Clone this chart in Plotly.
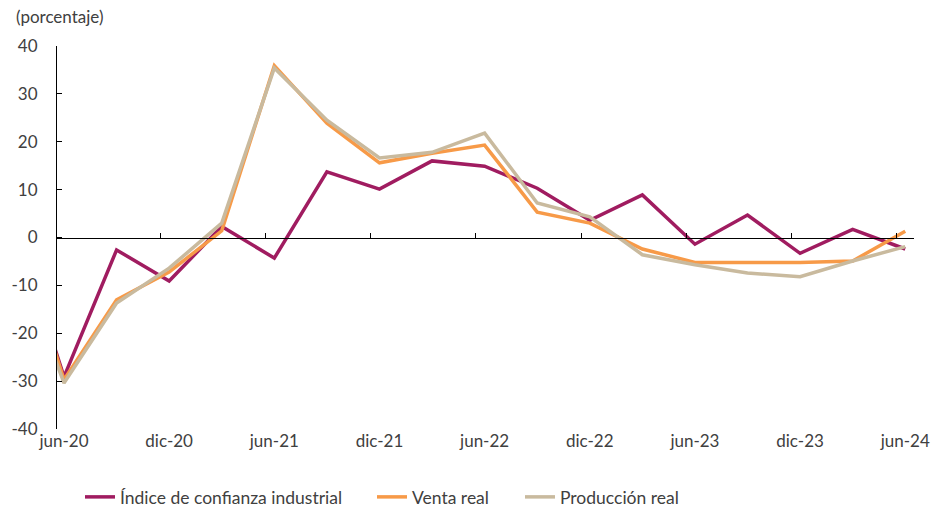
import pandas as pd
import plotly.graph_objects as go

# Quarterly observations (first one, mar-20, is clipped by the axis range)
periods = ["2020-03", "2020-06", "2020-09", "2020-12", "2021-03", "2021-06", "2021-09",
           "2021-12", "2022-03", "2022-06", "2022-09", "2022-12", "2023-03", "2023-06",
           "2023-09", "2023-12", "2024-03", "2024-06"]
confianza = [5.0, -29.1, -2.6, -9.1, 2.3, -4.3, 13.7, 10.1, 16.0, 14.9, 10.3, 3.6,
             8.9, -1.4, 4.7, -3.3, 1.7, -2.4]
venta = [5.0, -29.7, -13.0, -7.2, 1.4, 35.9, 23.9, 15.6, 17.6, 19.3, 5.3, 3.0,
         -2.4, -5.2, -5.2, -5.2, -4.9, 1.3]
produccion = [-1.0, -30.4, -13.7, -6.4, 3.0, 35.4, 24.5, 16.6, 17.8, 21.8, 7.2, 4.3,
              -3.6, -5.7, -7.4, -8.2, -4.9, -1.9]

tick_labels = ["jun-20", "dic-20", "jun-21", "dic-21", "jun-22", "dic-22", "jun-23", "dic-23", "jun-24"]
y_ticks = [-40, -30, -20, -10, 0, 10, 20, 30, 40]

series_names = ["Índice de confianza industrial", "Venta real", "Producción real"]
colors = ["#A01C60", "#F79A48", "#C9BA9E"]

# month index relative to jun-20
base = pd.Period("2020-06", "M")
xm = [(pd.Period(p, "M") - base).n for p in periods]
label_pos = [6 * i for i in range(len(tick_labels))]
boundary_pos = [v - 0.5 for v in label_pos]

FONT = "Lato, Calibri, sans-serif"
TXT = "#404040"
W, H = 942, 514

fig = go.Figure()
legend_ids = ["legend", "legend2", "legend3"]
for name, vals, col, lg in zip(series_names, [confianza, venta, produccion], colors, legend_ids):
    fig.add_trace(go.Scatter(x=xm, y=vals, mode="lines", name=name, legend=lg,
                             line=dict(color=col, width=3.5), cliponaxis=True))
# helper trace for the zero-crossing axis
fig.add_trace(go.Scatter(x=[None], y=[None], xaxis="x2", showlegend=False, hoverinfo="skip"))

legend_x = [80, 372, 520]
legend_cfg = {}
for lg, lx in zip(legend_ids, legend_x):
    legend_cfg[lg] = dict(orientation="h", xref="container", yref="container",
                          x=lx / W, y=(H - 497) / H, xanchor="left", yanchor="middle",
                          font=dict(size=17.5, color=TXT), bgcolor="rgba(0,0,0,0)")

xr = [-0.4, 48.5]
fig.update_layout(
    width=W, height=H,
    margin=dict(l=55, r=17, t=46, b=85),
    plot_bgcolor="white", paper_bgcolor="white",
    font=dict(family=FONT, size=16, color=TXT),
    showlegend=True,
    **legend_cfg,
    xaxis=dict(range=xr, tickvals=label_pos, ticktext=tick_labels, ticks="",
               showline=False, showgrid=False, zeroline=False,
               tickfont=dict(size=17, color=TXT)),
    xaxis2=dict(range=xr, overlaying="x", anchor="free", position=0.5,
                tickvals=boundary_pos, ticks="inside", ticklen=5, tickcolor="black",
                showticklabels=False, showline=True, linecolor="black", linewidth=1,
                showgrid=False, zeroline=False),
    yaxis=dict(range=[-40, 40], tickvals=y_ticks, ticktext=[str(v) for v in y_ticks],
               ticks="inside", ticklen=5, tickcolor="black",
               showline=True, linecolor="black", linewidth=1,
               showgrid=False, zeroline=False, tickfont=dict(size=17, color=TXT),
               ticklabelstandoff=15),
    annotations=[dict(text="(porcentaje)", xref="paper", yref="paper",
                      x=0, y=1, xanchor="left", yanchor="middle",
                      xshift=-43, yshift=30, showarrow=False,
                      font=dict(size=17, color=TXT))],
)
fig.write_html("out.html", config={"displayModeBar": False},
               post_script="document.body.style.margin='0';")
